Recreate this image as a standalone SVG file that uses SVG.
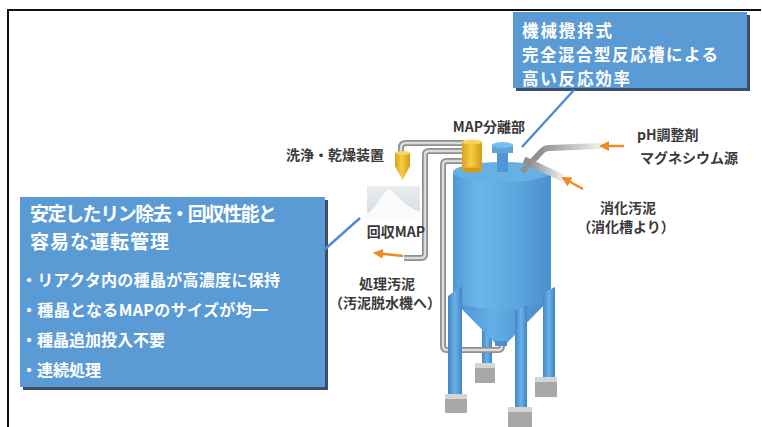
<svg xmlns="http://www.w3.org/2000/svg" width="762" height="427" viewBox="0 0 762 427">
  <style>
    .callout { fill: #5b9bd5; }
    .shadow { fill: #3d4f66; }
    .ctext { fill: #ffffff; font-family: "Noto Sans CJK JP", "Noto Sans", sans-serif; font-weight: bold; }
    .lbl { fill: #3a3a3a; font-family: "Noto Sans CJK JP", "Noto Sans", sans-serif; font-weight: bold; font-size: 14px; }
    .pipe-out { fill: none; stroke: #8f8f8f; stroke-width: 6; stroke-linejoin: round; stroke-linecap: butt; }
    .pipe-in { fill: none; stroke: #dcdcdc; stroke-width: 2.5; stroke-linejoin: round; stroke-linecap: butt; }
    .pointer { stroke: #4a8fd4; stroke-width: 2.5; fill: none; }
    .flow { stroke: #f08a24; stroke-width: 2.5; fill: none; marker-end: url(#orangeHead); }
    .leg { fill: url(#legGrad); }
    .base-top { fill: #d4d4d4; }
    .base-side { fill: #a8a8a8; }
  </style>
  <defs>
    <marker id="orangeHead" viewBox="0 0 10 10" refX="8" refY="5" markerWidth="4" markerHeight="4" orient="auto" markerUnits="strokeWidth">
      <path d="M0,0 L10,5 L0,10 Z" fill="#f08a24"/>
    </marker>
    <linearGradient id="bodyGrad" x1="0" y1="0" x2="1" y2="0">
      <stop offset="0" stop-color="#4f98d6"/>
      <stop offset="0.25" stop-color="#6db6ea"/>
      <stop offset="0.6" stop-color="#5ea8e0"/>
      <stop offset="1" stop-color="#4a90cf"/>
    </linearGradient>
    <linearGradient id="coneGrad" x1="0" y1="0" x2="1" y2="0">
      <stop offset="0" stop-color="#4a92d2"/>
      <stop offset="0.4" stop-color="#64aee6"/>
      <stop offset="1" stop-color="#4789c8"/>
    </linearGradient>
    <linearGradient id="legGrad" x1="0" y1="0" x2="1" y2="0">
      <stop offset="0" stop-color="#3f86c8"/>
      <stop offset="0.5" stop-color="#6bb2e6"/>
      <stop offset="1" stop-color="#3f84c4"/>
    </linearGradient>
    <linearGradient id="yellowGrad" x1="0" y1="0" x2="1" y2="0">
      <stop offset="0" stop-color="#d9a21e"/>
      <stop offset="0.45" stop-color="#f6cd45"/>
      <stop offset="1" stop-color="#d49a18"/>
    </linearGradient>
    <linearGradient id="pileBg" x1="0" y1="0" x2="0" y2="1">
      <stop offset="0" stop-color="#e9edf2"/>
      <stop offset="1" stop-color="#d5dbe3"/>
    </linearGradient>
    <linearGradient id="fadeD" gradientUnits="userSpaceOnUse" x1="540" y1="0" x2="602" y2="0">
      <stop offset="0" stop-color="#8f8f8f"/>
      <stop offset="1" stop-color="#f2f2f2"/>
    </linearGradient>
    <linearGradient id="fadeE" gradientUnits="userSpaceOnUse" x1="530" y1="0" x2="564" y2="0">
      <stop offset="0" stop-color="#8f8f8f"/>
      <stop offset="1" stop-color="#f2f2f2"/>
    </linearGradient>
  </defs>

  <rect width="762" height="427" fill="#ffffff"/>

  <!-- outer frame (top and left rules) -->
  <g id="frame" stroke="#111111" stroke-width="2" fill="none">
    <path d="M8,427 V10 H761"/>
  </g>

  <!-- reactor illustration -->
  <g id="reactor">
    <!-- back leg -->
    <polygon class="leg" points="482,330 492,326 492,366 482,366"/>
    <rect class="base-side" x="475" y="365" width="20" height="18"/>
    <rect class="base-top" x="475" y="363" width="20" height="5"/>

    <!-- recirculation pipe to cone bottom -->
    <path class="pipe-out" d="M462,161 H447 Q443,161 443,165 V346 Q443,350 447,350 H498 Q502,350 502,346 V340"/>
    <path class="pipe-in" d="M462,161 H447 Q443,161 443,165 V346 Q443,350 447,350 H498 Q502,350 502,346 V340"/>

    <!-- tank cylinder -->
    <path d="M453,172 V300 A49,10 0 0 0 551,300 V172 Z" fill="url(#bodyGrad)"/>
    <!-- cone -->
    <path d="M455,302 Q502,318 549,300 L507,343 H495 Z" fill="url(#coneGrad)"/>
    <rect x="495" y="341" width="12" height="5" fill="#4b8fcc"/>
    <!-- tank top -->
    <ellipse cx="502" cy="172" rx="49" ry="10" fill="#66b0e6"/>
    <!-- top nozzle -->
    <rect x="497" y="150" width="11" height="22" fill="#4f97d4"/>
    <rect x="492" y="145" width="21" height="8" fill="#5ba4dc"/>
    <ellipse cx="502.5" cy="145" rx="10.5" ry="3" fill="#78bdee"/>

    <!-- front legs -->
    <polygon class="leg" points="448,296 462,286 462,397 448,397"/>
    <rect class="base-side" x="445" y="396" width="22" height="17"/>
    <rect class="base-top" x="445" y="394" width="22" height="5"/>

    <polygon class="leg" points="515,311 527,305 527,410 515,410"/>
    <rect class="base-side" x="508" y="409" width="24" height="18"/>
    <rect class="base-top" x="508" y="407" width="24" height="5"/>

    <polygon class="leg" points="543,293 555,287 555,380 543,380"/>
    <rect class="base-side" x="535" y="379" width="22" height="18"/>
    <rect class="base-top" x="535" y="377" width="22" height="5"/>

    <!-- pipe from separator to washing/drying unit -->
    <path class="pipe-out" d="M464,143 H406 Q401,143 401,148 V154"/>
    <path class="pipe-in" d="M464,143 H406 Q401,143 401,148 V154"/>
    <!-- treated sludge outlet pipe -->
    <path class="pipe-out" d="M464,151 H429 Q425,151 425,155 V254 Q425,258 421,258 H404"/>
    <path class="pipe-in" d="M464,151 H429 Q425,151 425,155 V254 Q425,258 421,258 H404"/>

    <!-- chemical feed pipe -->
    <path d="M522,172 L542,151 Q545,148 549,148 L601,146" fill="none" stroke="url(#fadeD)" stroke-width="6" stroke-linejoin="round"/>
    <!-- digested sludge inlet pipe -->
    <path d="M524,160 L563,178" fill="none" stroke="url(#fadeE)" stroke-width="7"/>
  </g>

  <!-- MAP separator (yellow) -->
  <g id="map-separator">
    <rect x="462" y="142" width="20" height="28" fill="url(#yellowGrad)"/>
    <ellipse cx="472" cy="170" rx="10" ry="2.5" fill="#d49a18"/>
    <ellipse cx="472" cy="142" rx="10" ry="2.5" fill="#f7d65e"/>
  </g>

  <!-- washing and drying unit -->
  <g id="dryer">
    <path d="M395,153 H410 V166 L402.5,180 L395,166 Z" fill="url(#yellowGrad)"/>
    <ellipse cx="402.5" cy="153" rx="7.5" ry="2" fill="#f7d65e"/>
  </g>

  <!-- recovered MAP -->
  <g id="recovered-map">
    <rect x="367" y="186" width="53" height="32" fill="url(#pileBg)"/>
    <path d="M367,214 C377,208 382,192 389,190 C396,192 402,205 420,212 V218 H367 Z" fill="#fafbfc"/>
    <text class="lbl" x="396" y="237" text-anchor="middle" font-size="13">回収MAP</text>
  </g>

  <!-- labels -->
  <g id="label-separator"><text class="lbl" x="489" y="132" text-anchor="middle">MAP分離部</text></g>
  <g id="label-dryer"><text class="lbl" x="335" y="160" text-anchor="middle">洗浄・乾燥装置</text></g>
  <g id="label-chem">
    <text class="lbl" x="637" y="140">pH調整剤</text>
    <text class="lbl" x="640" y="163">マグネシウム源</text>
  </g>
  <g id="label-inflow">
    <text class="lbl" x="628" y="213" text-anchor="middle">消化汚泥</text>
    <text class="lbl" x="626" y="232" text-anchor="middle" font-size="13">（消化槽より）</text>
  </g>
  <g id="label-outflow">
    <text class="lbl" x="387" y="289" text-anchor="middle">処理汚泥</text>
    <text class="lbl" x="385" y="308" text-anchor="middle" font-size="13">（汚泥脱水機へ）</text>
  </g>

  <!-- callout: reactor type -->
  <g id="callout-reactor">
    <rect class="shadow" x="516" y="15" width="234" height="76"/>
    <rect class="callout" x="513" y="12" width="234" height="76"/>
    <text class="ctext" font-size="16.5" x="522" y="37" textLength="90" lengthAdjust="spacing">機械攪拌式</text>
    <text class="ctext" font-size="16.5" x="522" y="61" textLength="196" lengthAdjust="spacing">完全混合型反応槽による</text>
    <text class="ctext" font-size="16.5" x="522" y="85" textLength="108" lengthAdjust="spacing">高い反応効率</text>
  </g>

  <!-- callout: performance -->
  <g id="callout-performance">
    <rect class="shadow" x="23" y="200" width="305" height="190"/>
    <rect class="callout" x="20" y="197" width="305" height="190"/>
    <text class="ctext" font-size="19" x="30" y="221" textLength="247" lengthAdjust="spacing">安定したリン除去・回収性能と</text>
    <text class="ctext" font-size="19" x="30" y="249" textLength="139" lengthAdjust="spacing">容易な運転管理</text>
    <text class="ctext" font-size="16" x="21" y="286" textLength="259" lengthAdjust="spacing">・リアクタ内の種晶が高濃度に保持</text>
    <text class="ctext" font-size="16" x="21" y="316" textLength="247" lengthAdjust="spacing">・種晶となるMAPのサイズが均一</text>
    <text class="ctext" font-size="16" x="21" y="346">・種晶追加投入不要</text>
    <text class="ctext" font-size="16" x="21" y="376">・連続処理</text>
  </g>

  <!-- connectors: callout pointers and flow arrows -->
  <g id="connectors">
    <line class="pointer" x1="574" y1="90" x2="522" y2="147"/>
    <line class="pointer" x1="324" y1="250" x2="360" y2="218"/>
    <line class="flow" x1="624" y1="146" x2="601" y2="146"/>
    <line class="flow" x1="583" y1="189" x2="563" y2="178"/>
    <line class="flow" x1="403" y1="256" x2="375" y2="253"/>
  </g>
</svg>
